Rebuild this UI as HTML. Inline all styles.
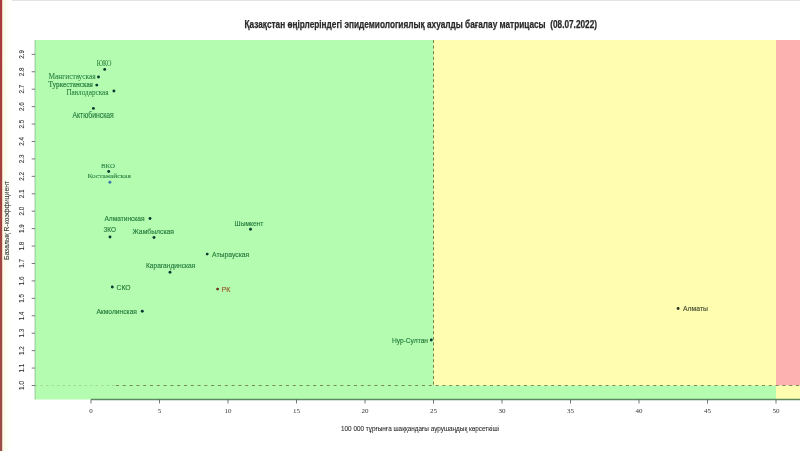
<!DOCTYPE html>
<html><head><meta charset="utf-8"><style>
html,body{margin:0;padding:0;background:#fff;width:800px;height:451px;overflow:hidden}
svg{display:block;filter:blur(0.35px)}
</style></head><body>
<svg width="800" height="451" viewBox="0 0 800 451">
<rect width="800" height="451" fill="#fff"/>
<defs><linearGradient id="lb" x1="0" y1="0" x2="0" y2="1"><stop offset="0" stop-color="#a83a3a"/><stop offset="1" stop-color="#9a4c46"/></linearGradient></defs>
<defs><linearGradient id="cr" x1="0" y1="0" x2="1" y2="0"><stop offset="0" stop-color="#fff8df"/><stop offset="0.5" stop-color="#fbfff4"/><stop offset="1" stop-color="#ffffff"/></linearGradient></defs>
<rect x="2" y="0" width="9" height="451" fill="url(#cr)"/>
<rect x="0" y="0" width="2.2" height="451" fill="url(#lb)"/>
<rect x="12" y="0" width="788" height="1" fill="#e4e2e2"/>
<rect x="35" y="40" width="765" height="359.5" fill="#b3fcb0"/>
<rect x="433.5" y="40" width="342.5" height="345.5" fill="#fffdb0"/>
<rect x="776.0" y="40" width="24.0" height="345.5" fill="#fdb1b0"/>
<rect x="776.0" y="385.5" width="24.0" height="14.0" fill="#fffdb0"/>
<line x1="433.5" y1="40" x2="433.5" y2="385.5" stroke="#6b6b45" stroke-width="1" stroke-dasharray="3,2.6" opacity="0.85"/>
<line x1="35" y1="385.5" x2="116" y2="385.5" stroke="#6b6b45" stroke-width="0.7" stroke-dasharray="2.5,3" opacity="0.35"/>
<line x1="116" y1="385.5" x2="800" y2="385.5" stroke="#6b6b45" stroke-width="1" stroke-dasharray="3,3.8" opacity="0.8"/>
<line x1="35" y1="40" x2="35" y2="399.5" stroke="#5e8a60" stroke-width="0.8" opacity="0.6"/>
<line x1="91.0" y1="399.5" x2="800" y2="399.5" stroke="#5e8a60" stroke-width="1.6"/>
<line x1="91.0" y1="399.5" x2="91.0" y2="403.5" stroke="#555" stroke-width="0.8"/>
<text x="91.0" y="413" font-family='"Liberation Serif", serif' font-size="7" fill="#333" text-anchor="middle">0</text>
<line x1="159.5" y1="399.5" x2="159.5" y2="403.5" stroke="#555" stroke-width="0.8"/>
<text x="159.5" y="413" font-family='"Liberation Serif", serif' font-size="7" fill="#333" text-anchor="middle">5</text>
<line x1="228.0" y1="399.5" x2="228.0" y2="403.5" stroke="#555" stroke-width="0.8"/>
<text x="228.0" y="413" font-family='"Liberation Serif", serif' font-size="7" fill="#333" text-anchor="middle">10</text>
<line x1="296.5" y1="399.5" x2="296.5" y2="403.5" stroke="#555" stroke-width="0.8"/>
<text x="296.5" y="413" font-family='"Liberation Serif", serif' font-size="7" fill="#333" text-anchor="middle">15</text>
<line x1="365.0" y1="399.5" x2="365.0" y2="403.5" stroke="#555" stroke-width="0.8"/>
<text x="365.0" y="413" font-family='"Liberation Serif", serif' font-size="7" fill="#333" text-anchor="middle">20</text>
<line x1="433.5" y1="399.5" x2="433.5" y2="403.5" stroke="#555" stroke-width="0.8"/>
<text x="433.5" y="413" font-family='"Liberation Serif", serif' font-size="7" fill="#333" text-anchor="middle">25</text>
<line x1="502.0" y1="399.5" x2="502.0" y2="403.5" stroke="#555" stroke-width="0.8"/>
<text x="502.0" y="413" font-family='"Liberation Serif", serif' font-size="7" fill="#333" text-anchor="middle">30</text>
<line x1="570.5" y1="399.5" x2="570.5" y2="403.5" stroke="#555" stroke-width="0.8"/>
<text x="570.5" y="413" font-family='"Liberation Serif", serif' font-size="7" fill="#333" text-anchor="middle">35</text>
<line x1="639.0" y1="399.5" x2="639.0" y2="403.5" stroke="#555" stroke-width="0.8"/>
<text x="639.0" y="413" font-family='"Liberation Serif", serif' font-size="7" fill="#333" text-anchor="middle">40</text>
<line x1="707.5" y1="399.5" x2="707.5" y2="403.5" stroke="#555" stroke-width="0.8"/>
<text x="707.5" y="413" font-family='"Liberation Serif", serif' font-size="7" fill="#333" text-anchor="middle">45</text>
<line x1="776.0" y1="399.5" x2="776.0" y2="403.5" stroke="#555" stroke-width="0.8"/>
<text x="776.0" y="413" font-family='"Liberation Serif", serif' font-size="7" fill="#333" text-anchor="middle">50</text>
<line x1="31.7" y1="385.5" x2="35" y2="385.5" stroke="#555" stroke-width="0.8"/>
<text transform="translate(24.4,385.5) rotate(-90)" font-family='"Liberation Sans", sans-serif' font-size="6.3" fill="#333" stroke="#333" stroke-width="0.08" text-anchor="middle">1.0</text>
<line x1="31.7" y1="368.07" x2="35" y2="368.07" stroke="#555" stroke-width="0.8"/>
<text transform="translate(24.4,368.07) rotate(-90)" font-family='"Liberation Sans", sans-serif' font-size="6.3" fill="#333" stroke="#333" stroke-width="0.08" text-anchor="middle">1.1</text>
<line x1="31.7" y1="350.64" x2="35" y2="350.64" stroke="#555" stroke-width="0.8"/>
<text transform="translate(24.4,350.64) rotate(-90)" font-family='"Liberation Sans", sans-serif' font-size="6.3" fill="#333" stroke="#333" stroke-width="0.08" text-anchor="middle">1.2</text>
<line x1="31.7" y1="333.21" x2="35" y2="333.21" stroke="#555" stroke-width="0.8"/>
<text transform="translate(24.4,333.21) rotate(-90)" font-family='"Liberation Sans", sans-serif' font-size="6.3" fill="#333" stroke="#333" stroke-width="0.08" text-anchor="middle">1.3</text>
<line x1="31.7" y1="315.78000000000003" x2="35" y2="315.78000000000003" stroke="#555" stroke-width="0.8"/>
<text transform="translate(24.4,315.78000000000003) rotate(-90)" font-family='"Liberation Sans", sans-serif' font-size="6.3" fill="#333" stroke="#333" stroke-width="0.08" text-anchor="middle">1.4</text>
<line x1="31.7" y1="298.35" x2="35" y2="298.35" stroke="#555" stroke-width="0.8"/>
<text transform="translate(24.4,298.35) rotate(-90)" font-family='"Liberation Sans", sans-serif' font-size="6.3" fill="#333" stroke="#333" stroke-width="0.08" text-anchor="middle">1.5</text>
<line x1="31.7" y1="280.91999999999996" x2="35" y2="280.91999999999996" stroke="#555" stroke-width="0.8"/>
<text transform="translate(24.4,280.91999999999996) rotate(-90)" font-family='"Liberation Sans", sans-serif' font-size="6.3" fill="#333" stroke="#333" stroke-width="0.08" text-anchor="middle">1.6</text>
<line x1="31.7" y1="263.48999999999995" x2="35" y2="263.48999999999995" stroke="#555" stroke-width="0.8"/>
<text transform="translate(24.4,263.48999999999995) rotate(-90)" font-family='"Liberation Sans", sans-serif' font-size="6.3" fill="#333" stroke="#333" stroke-width="0.08" text-anchor="middle">1.7</text>
<line x1="31.7" y1="246.05999999999997" x2="35" y2="246.05999999999997" stroke="#555" stroke-width="0.8"/>
<text transform="translate(24.4,246.05999999999997) rotate(-90)" font-family='"Liberation Sans", sans-serif' font-size="6.3" fill="#333" stroke="#333" stroke-width="0.08" text-anchor="middle">1.8</text>
<line x1="31.7" y1="228.63" x2="35" y2="228.63" stroke="#555" stroke-width="0.8"/>
<text transform="translate(24.4,228.63) rotate(-90)" font-family='"Liberation Sans", sans-serif' font-size="6.3" fill="#333" stroke="#333" stroke-width="0.08" text-anchor="middle">1.9</text>
<line x1="31.7" y1="211.2" x2="35" y2="211.2" stroke="#555" stroke-width="0.8"/>
<text transform="translate(24.4,211.2) rotate(-90)" font-family='"Liberation Sans", sans-serif' font-size="6.3" fill="#333" stroke="#333" stroke-width="0.08" text-anchor="middle">2.0</text>
<line x1="31.7" y1="193.76999999999998" x2="35" y2="193.76999999999998" stroke="#555" stroke-width="0.8"/>
<text transform="translate(24.4,193.76999999999998) rotate(-90)" font-family='"Liberation Sans", sans-serif' font-size="6.3" fill="#333" stroke="#333" stroke-width="0.08" text-anchor="middle">2.1</text>
<line x1="31.7" y1="176.33999999999995" x2="35" y2="176.33999999999995" stroke="#555" stroke-width="0.8"/>
<text transform="translate(24.4,176.33999999999995) rotate(-90)" font-family='"Liberation Sans", sans-serif' font-size="6.3" fill="#333" stroke="#333" stroke-width="0.08" text-anchor="middle">2.2</text>
<line x1="31.7" y1="158.91000000000003" x2="35" y2="158.91000000000003" stroke="#555" stroke-width="0.8"/>
<text transform="translate(24.4,158.91000000000003) rotate(-90)" font-family='"Liberation Sans", sans-serif' font-size="6.3" fill="#333" stroke="#333" stroke-width="0.08" text-anchor="middle">2.3</text>
<line x1="31.7" y1="141.47999999999993" x2="35" y2="141.47999999999993" stroke="#555" stroke-width="0.8"/>
<text transform="translate(24.4,141.47999999999993) rotate(-90)" font-family='"Liberation Sans", sans-serif' font-size="6.3" fill="#333" stroke="#333" stroke-width="0.08" text-anchor="middle">2.4</text>
<line x1="31.7" y1="124.04999999999995" x2="35" y2="124.04999999999995" stroke="#555" stroke-width="0.8"/>
<text transform="translate(24.4,124.04999999999995) rotate(-90)" font-family='"Liberation Sans", sans-serif' font-size="6.3" fill="#333" stroke="#333" stroke-width="0.08" text-anchor="middle">2.5</text>
<line x1="31.7" y1="106.61999999999995" x2="35" y2="106.61999999999995" stroke="#555" stroke-width="0.8"/>
<text transform="translate(24.4,106.61999999999995) rotate(-90)" font-family='"Liberation Sans", sans-serif' font-size="6.3" fill="#333" stroke="#333" stroke-width="0.08" text-anchor="middle">2.6</text>
<line x1="31.7" y1="89.18999999999994" x2="35" y2="89.18999999999994" stroke="#555" stroke-width="0.8"/>
<text transform="translate(24.4,89.18999999999994) rotate(-90)" font-family='"Liberation Sans", sans-serif' font-size="6.3" fill="#333" stroke="#333" stroke-width="0.08" text-anchor="middle">2.7</text>
<line x1="31.7" y1="71.75999999999999" x2="35" y2="71.75999999999999" stroke="#555" stroke-width="0.8"/>
<text transform="translate(24.4,71.75999999999999) rotate(-90)" font-family='"Liberation Sans", sans-serif' font-size="6.3" fill="#333" stroke="#333" stroke-width="0.08" text-anchor="middle">2.8</text>
<line x1="31.7" y1="54.32999999999993" x2="35" y2="54.32999999999993" stroke="#555" stroke-width="0.8"/>
<text transform="translate(24.4,54.32999999999993) rotate(-90)" font-family='"Liberation Sans", sans-serif' font-size="6.3" fill="#333" stroke="#333" stroke-width="0.08" text-anchor="middle">2.9</text>
<circle cx="104.7" cy="69.4" r="1.45" fill="#0a3a30"/>
<text x="96.8" y="65.8" stroke="#267a3c" stroke-width="0.05" font-family='"Liberation Serif", serif' font-size="7.5" fill="#267a3c" textLength="14.600000000000009" lengthAdjust="spacingAndGlyphs">ЮКО</text>
<circle cx="98.5" cy="77.0" r="1.45" fill="#0a3a30"/>
<text x="48.4" y="79.3" stroke="#267a3c" stroke-width="0.05" font-family='"Liberation Serif", serif' font-size="8.2" fill="#267a3c" textLength="47.300000000000004" lengthAdjust="spacingAndGlyphs">Мангистауская</text>
<circle cx="96.8" cy="85.1" r="1.45" fill="#0a3a30"/>
<text x="48.4" y="87.1" stroke="#267a3c" stroke-width="0.2" font-family='"Liberation Serif", serif' font-size="8.8" fill="#267a3c" textLength="44.50000000000001" lengthAdjust="spacingAndGlyphs">Туркестанская</text>
<circle cx="113.9" cy="91.0" r="1.45" fill="#0a3a30"/>
<text x="66.4" y="94.8" stroke="#267a3c" stroke-width="0.05" font-family='"Liberation Serif", serif' font-size="8.0" fill="#267a3c" textLength="42.19999999999999" lengthAdjust="spacingAndGlyphs">Павлодарская</text>
<circle cx="93.4" cy="108.4" r="1.45" fill="#0a3a30"/>
<text x="72.5" y="117.8" stroke="#267a3c" stroke-width="0.14" font-family='"Liberation Sans", sans-serif' font-size="8.4" fill="#267a3c" textLength="41.3" lengthAdjust="spacingAndGlyphs">Актюбинская</text>
<circle cx="108.7" cy="171.5" r="1.45" fill="#0a3a30"/>
<text x="101" y="168.3" stroke="#267a3c" stroke-width="0.05" font-family='"Liberation Serif", serif' font-size="7" fill="#267a3c" textLength="14" lengthAdjust="spacingAndGlyphs">ВКО</text>
<circle cx="109.9" cy="182.2" r="1.45" fill="#3a78a8"/>
<text x="87.4" y="177.9" stroke="#267a3c" stroke-width="0.05" font-family='"Liberation Serif", serif' font-size="7" fill="#267a3c" textLength="43.5" lengthAdjust="spacingAndGlyphs">Костанайская</text>
<circle cx="150.0" cy="218.5" r="1.45" fill="#0a3a30"/>
<text x="104.5" y="221.3" stroke="#267a3c" stroke-width="0.14" font-family='"Liberation Sans", sans-serif' font-size="7.5" fill="#267a3c" textLength="40.0" lengthAdjust="spacingAndGlyphs">Алматинская</text>
<circle cx="110.0" cy="237.0" r="1.45" fill="#0a3a30"/>
<text x="103.5" y="232.3" stroke="#267a3c" stroke-width="0.14" font-family='"Liberation Sans", sans-serif' font-size="8" fill="#267a3c" textLength="12.5" lengthAdjust="spacingAndGlyphs">ЗКО</text>
<circle cx="154.0" cy="237.5" r="1.45" fill="#0a3a30"/>
<text x="132.5" y="233.8" stroke="#267a3c" stroke-width="0.14" font-family='"Liberation Sans", sans-serif' font-size="7.5" fill="#267a3c" textLength="41.5" lengthAdjust="spacingAndGlyphs">Жамбылская</text>
<circle cx="250.5" cy="229.3" r="1.45" fill="#0a3a30"/>
<text x="234.6" y="225.5" stroke="#267a3c" stroke-width="0.14" font-family='"Liberation Sans", sans-serif' font-size="7.5" fill="#267a3c" textLength="28.700000000000017" lengthAdjust="spacingAndGlyphs">Шымкент</text>
<circle cx="207.2" cy="254.1" r="1.45" fill="#0a3a30"/>
<text x="212" y="256.8" stroke="#267a3c" stroke-width="0.14" font-family='"Liberation Sans", sans-serif' font-size="7.5" fill="#267a3c" textLength="37.30000000000001" lengthAdjust="spacingAndGlyphs">Атырауская</text>
<circle cx="170.0" cy="272.2" r="1.45" fill="#0a3a30"/>
<text x="145.9" y="268.3" stroke="#267a3c" stroke-width="0.14" font-family='"Liberation Sans", sans-serif' font-size="7.5" fill="#267a3c" textLength="49.5" lengthAdjust="spacingAndGlyphs">Карагандинская</text>
<circle cx="112.3" cy="287.0" r="1.45" fill="#0a3a30"/>
<text x="116.6" y="289.8" stroke="#267a3c" stroke-width="0.14" font-family='"Liberation Sans", sans-serif' font-size="7.5" fill="#267a3c" textLength="14.0" lengthAdjust="spacingAndGlyphs">СКО</text>
<circle cx="217.6" cy="289.1" r="1.45" fill="#6a3a1a"/>
<text x="221.6" y="292.3" stroke="#9a5a2a" stroke-width="0.14" font-family='"Liberation Sans", sans-serif' font-size="7.5" fill="#9a5a2a" textLength="8.800000000000011" lengthAdjust="spacingAndGlyphs">РК</text>
<circle cx="142.3" cy="311.2" r="1.45" fill="#0a3a30"/>
<text x="96.4" y="313.5" stroke="#267a3c" stroke-width="0.14" font-family='"Liberation Sans", sans-serif' font-size="7.5" fill="#267a3c" textLength="40.599999999999994" lengthAdjust="spacingAndGlyphs">Акмолинская</text>
<circle cx="431.3" cy="340.0" r="1.45" fill="#0a3a30"/>
<text x="391.9" y="342.90000000000003" stroke="#267a3c" stroke-width="0.14" font-family='"Liberation Sans", sans-serif' font-size="7.5" fill="#267a3c" textLength="36.10000000000002" lengthAdjust="spacingAndGlyphs">Нур-Султан</text>
<circle cx="678.1" cy="308.5" r="1.45" fill="#2e3322"/>
<text x="683" y="311.3" stroke="#454a30" stroke-width="0.14" font-family='"Liberation Sans", sans-serif' font-size="7.5" fill="#454a30" textLength="25" lengthAdjust="spacingAndGlyphs">Алматы</text>
<text x="244.5" y="27.8" font-family='"Liberation Sans", sans-serif' font-weight="bold" font-size="10.4" fill="#2a2a2a" stroke="#2a2a2a" stroke-width="0.25" textLength="352.5" lengthAdjust="spacingAndGlyphs">Қазақстан өңірлеріндегі эпидемиологиялық ахуалды бағалау матрицасы &#160;(08.07.2022)</text>
<text x="341" y="430.6" font-family='"Liberation Sans", sans-serif' font-size="7.2" fill="#2a2a2a" stroke="#2a2a2a" stroke-width="0.08" textLength="158" lengthAdjust="spacingAndGlyphs">100 000 тұрғынға шаққандағы аурушаңдық көрсеткіші</text>
<text transform="translate(9.3,220.5) rotate(-90)" font-family='"Liberation Sans", sans-serif' font-size="7.2" fill="#333" stroke="#333" stroke-width="0.08" text-anchor="middle" textLength="79" lengthAdjust="spacingAndGlyphs">Базалық R-коэффициент</text>
</svg>
</body></html>
